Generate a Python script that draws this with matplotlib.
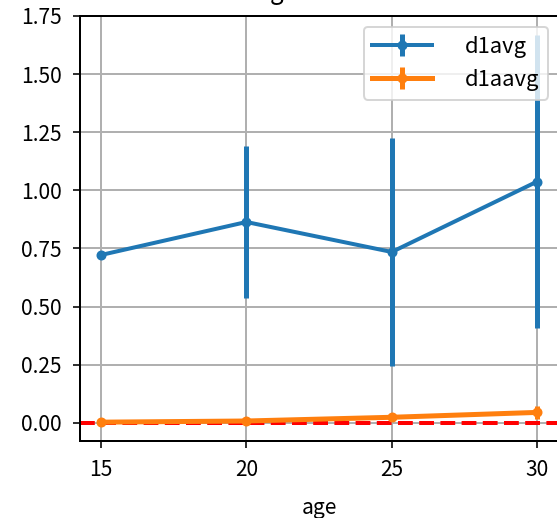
import matplotlib
matplotlib.use("Agg")
import matplotlib.pyplot as plt

plt.rcParams['font.family'] = ['Noto Sans CJK JP', 'DejaVu Sans']

age = [15, 20, 25, 30]
d1avg = [0.722, 0.864, 0.735, 1.038]
d1avg_err = [0.0, 0.327, 0.49, 0.63]
d1aavg = [0.003, 0.008, 0.024, 0.045]
d1aavg_err = [0.0, 0.004, 0.01, 0.028]
title_text = "avg over time"

W, H, DPI = 557, 518, 144
fig = plt.figure(figsize=(W / DPI, H / DPI), dpi=DPI)
ax = fig.add_axes([80 / W, (H - 441) / H, (559 - 80) / W, (441 - 16) / H])

ax.errorbar(age, d1avg, yerr=d1avg_err, fmt='-o', ms=4, lw=2, elinewidth=2.5,
            color='#1f77b4', label='d1avg')
ax.errorbar(age, d1aavg, yerr=d1aavg_err, fmt='-o', ms=4, lw=2.5, elinewidth=2.5,
            color='#ff7f0e', label='d1aavg')
ax.axhline(0, color='red', linestyle='--', lw=2)

ax.set_xlim(14.28, 30.75)
ax.set_ylim(-0.078, 1.75)
ax.set_xticks(age)
ax.set_yticks([0, 0.25, 0.5, 0.75, 1.0, 1.25, 1.5, 1.75])
ax.yaxis.set_major_formatter(matplotlib.ticker.FormatStrFormatter('%.2f'))
ax.tick_params(axis='x', pad=5.5, labelsize=10.5)
ax.tick_params(axis='y', pad=5.5, labelsize=10.5)
ax.grid(True, color='#b0b0b0', lw=1)
ax.set_axisbelow(True)
for s in ax.spines.values():
    s.set_linewidth(1)
ax.set_xlabel('age', labelpad=8, fontsize=10.5)
ax.set_title(title_text, pad=8.5)
ax.legend(loc='upper right', fontsize=11, handlelength=2.7, handletextpad=1.5)

fig.savefig('out.png', dpi=DPI)
